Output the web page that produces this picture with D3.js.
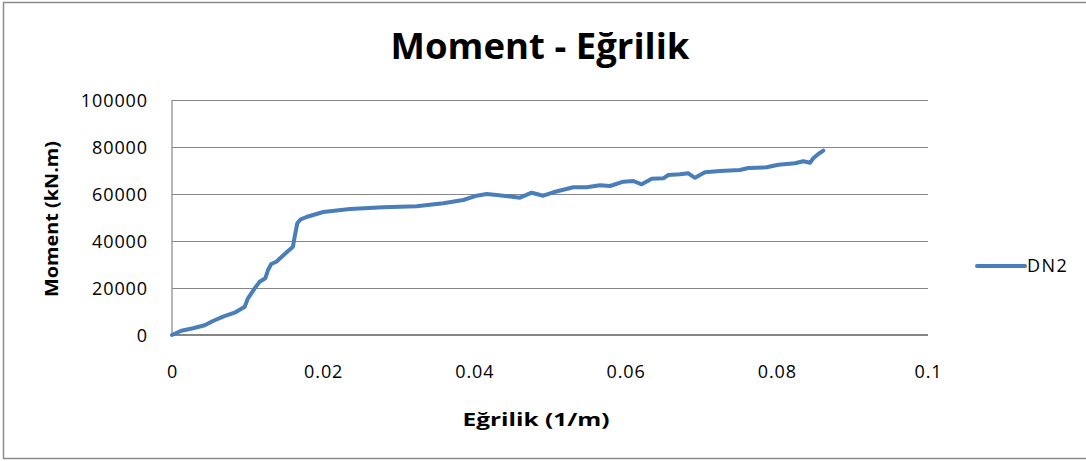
<!DOCTYPE html>
<html>
<head>
<meta charset="utf-8">
<script src="https://cdn.jsdelivr.net/npm/d3@7"></script>
<style>
body { margin:0; background:#ffffff; }
svg { display:block; font-family:"Open Sans", sans-serif; }
</style>
</head>
<body>
<svg id="chart"></svg>
<script>
// curvature (1/m) and moment (kN.m)
var egrilik = [0, 0.00123, 0.00278, 0.00433, 0.00542, 0.00675, 0.00829, 0.00962, 0.01005, 0.01094,
    0.0116, 0.01234, 0.0127, 0.01313, 0.0138, 0.01491, 0.016, 0.01623, 0.01657, 0.01702,
    0.01779, 0.02001, 0.02354, 0.02791, 0.03237, 0.03589, 0.03853, 0.0403, 0.04163, 0.04295,
    0.04603, 0.04758, 0.04911, 0.05044, 0.05308, 0.05485, 0.05661, 0.05794, 0.0597, 0.06102,
    0.06213, 0.06345, 0.06499, 0.06565, 0.0672, 0.06829, 0.06918, 0.0705, 0.07249, 0.07513,
    0.07623, 0.07866, 0.0802, 0.08241, 0.08351, 0.0844, 0.08483, 0.08549, 0.08615];
var moment = [0, 1830, 2850, 4130, 5960, 7790, 9490, 12040, 15620, 19870,
    22680, 24130, 27660, 30210, 31190, 34470, 37570, 41830, 47530, 49230,
    50210, 52340, 53620, 54340, 54770, 56040, 57450, 59280, 60000, 59570,
    58430, 60550, 59280, 60720, 62850, 62850, 63700, 63400, 65230, 65530,
    64130, 66510, 66680, 68090, 68380, 68810, 66890, 69280, 69790, 70210,
    71060, 71360, 72470, 73060, 73910, 73320, 75190, 77020, 78430];
var xTicks = [0, 0.02, 0.04, 0.06, 0.08, 0.1];
var yTicks = [0, 20000, 40000, 60000, 80000, 100000];
var seriesName = "DN2";

var drawChart = function()
{
    var screen = {width:1086, height:461};
    var plot = {left:172, right:928, top:100, bottom:335};

    var svg = d3.select("#chart")
    .attr("width", screen.width)
    .attr("height", screen.height);

    // outer frame
    svg.append("rect")
    .attr("x", 3.5)
    .attr("y", 2.5)
    .attr("width", 1095)
    .attr("height", 456)
    .attr("fill", "none")
    .attr("stroke", "#8c8c8c")
    .attr("stroke-width", 1.5);

    var xScale = d3.scaleLinear()
    .domain([0, 0.1])
    .range([plot.left, plot.right]);

    var yScale = d3.scaleLinear()
    .domain([0, 100000])
    .range([plot.bottom, plot.top]);

    // horizontal grid
    svg.append("g")
    .attr("transform", "translate(" + plot.left + ",0)")
    .call(d3.axisLeft(yScale).tickValues(yTicks).tickSize(-(plot.right - plot.left)).tickFormat(""))
    .call(function(g){ g.select(".domain").remove(); })
    .selectAll("line")
    .attr("stroke", "#868686")
    .attr("stroke-width", 1.2);

    // y labels
    var yAxis = svg.append("g")
    .attr("transform", "translate(" + (plot.left - 24) + ",0)")
    .call(d3.axisLeft(yScale).tickValues(yTicks).tickSize(0).tickFormat(d3.format("d")));
    yAxis.select(".domain").remove();
    yAxis.selectAll("text")
    .attr("x", 0)
    .attr("dy", "0.35em")
    .style("font-size", "18px")
    .style("letter-spacing", "0.9px")
    .style("font-family", "Open Sans")
    .attr("fill", "#000");

    // x labels
    var xAxis = svg.append("g")
    .attr("transform", "translate(0," + (plot.bottom + 30) + ")")
    .call(d3.axisBottom(xScale).tickValues(xTicks).tickSize(0).tickFormat(d3.format(".2~f")));
    xAxis.select(".domain").remove();
    xAxis.selectAll("text")
    .attr("y", 0)
    .attr("dy", "0.71em")
    .style("font-size", "18px")
    .style("letter-spacing", "0.9px")
    .style("font-family", "Open Sans")
    .attr("fill", "#000");

    // axis lines
    svg.append("line")
    .attr("x1", plot.left).attr("x2", plot.left)
    .attr("y1", plot.top).attr("y2", plot.bottom)
    .attr("stroke", "#868686").attr("stroke-width", 1.2);
    svg.append("line")
    .attr("x1", plot.left).attr("x2", plot.right)
    .attr("y1", plot.bottom).attr("y2", plot.bottom)
    .attr("stroke", "#868686").attr("stroke-width", 2);

    var points = egrilik.map(function(v, i){ return [v, moment[i]]; });

    var line = d3.line()
    .x(function(d){ return xScale(d[0]); })
    .y(function(d){ return yScale(d[1]); });

    svg.append("path")
    .datum(points)
    .attr("d", line)
    .attr("fill", "none")
    .attr("stroke", "#4a7ebb")
    .attr("stroke-width", 4)
    .attr("stroke-linejoin", "round")
    .attr("stroke-linecap", "round");

    // title
    svg.append("text")
    .attr("x", 540)
    .attr("y", 59)
    .attr("text-anchor", "middle")
    .attr("textLength", 299)
    .attr("lengthAdjust", "spacingAndGlyphs")
    .style("font-size", "36px")
    .style("font-weight", "bold")
    .text("Moment - Eğrilik");

    // axis titles
    svg.append("text")
    .attr("transform", "translate(58,219) rotate(-90)")
    .attr("text-anchor", "middle")
    .attr("textLength", 156)
    .attr("lengthAdjust", "spacingAndGlyphs")
    .style("font-size", "18px")
    .style("font-weight", "bold")
    .text("Moment (kN.m)");

    svg.append("text")
    .attr("x", 536)
    .attr("y", 426)
    .attr("text-anchor", "middle")
    .attr("textLength", 147)
    .attr("lengthAdjust", "spacingAndGlyphs")
    .style("font-size", "18px")
    .style("font-weight", "bold")
    .text("Eğrilik (1/m)");

    // legend
    var legend = svg.append("g")
    .attr("transform", "translate(977,266)");
    legend.append("line")
    .attr("x1", 0).attr("x2", 48)
    .attr("y1", 0).attr("y2", 0)
    .attr("stroke", "#4a7ebb")
    .attr("stroke-width", 4)
    .attr("stroke-linecap", "round");
    legend.append("text")
    .attr("x", 50)
    .attr("dy", "0.35em")
    .style("font-size", "18px")
    .style("letter-spacing", "1.5px")
    .text(seriesName);
};

drawChart();
</script>
</body>
</html>
